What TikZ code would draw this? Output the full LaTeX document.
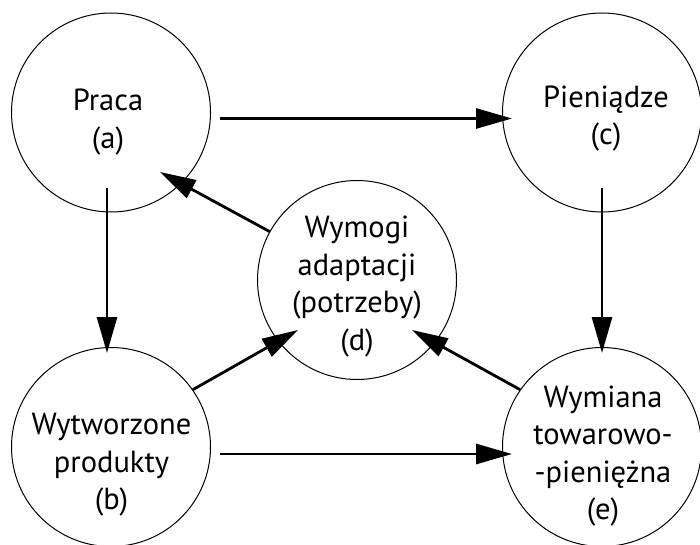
\documentclass[tikz,border=0pt]{standalone}
\usepackage{fontspec}
\setmainfont{PT Sans}
\usetikzlibrary{arrows.meta}
\begin{document}
\begin{tikzpicture}[x=1pt,y=-1pt,
  circ/.style={draw, circle, line width=1pt, minimum size=199pt, inner sep=0pt},
  lbl/.style={align=center, anchor=base, font=\fontsize{30.5}{37.5}\selectfont, inner sep=0pt},
  arr/.style={line width=2.8pt, -{Triangle[length=36pt,width=20pt]}}]
\useasboundingbox (0,0) rectangle (700,545);
% circles
\node[circ] (a) at (111,112.5) {};
\node[circ] (c) at (602,112.5) {};
\node[circ] (b) at (111,447) {};
\node[circ] (e) at (602,447) {};
\node[circ] (d) at (357,280) {};
% labels (anchor = baseline of last line)
\node[lbl] (ta) at (108,148.5) {Praca\\(a)};
\node[lbl] (tc) at (606,145) {Pieniądze\\(c)};
\node[lbl] (tb) at (111.5,509.5) {Wytworzone\\produkty\\(b)};
\node[lbl] (td) at (357,350) {Wymogi\\adaptacji\\(potrzeby)\\(d)};
\node[lbl] (te) at (603,519.5) {Wymiana\\towarowo-\\-pieniężna\\(e)};
% arrows
\draw[arr] ([shift={(9,6)}]a.east) -- ([shift={(10,6)}]c.west);
\draw[arr] ([shift={(-4,-24)}]a.south) -- ([shift={(-4,6)}]b.north);
\draw[arr] ([shift={(0,-24)}]c.south) -- ([shift={(0,6)}]e.north);
\draw[arr] ([shift={(9,7)}]b.east) -- ([shift={(10,7)}]e.west);
\draw[arr] (d.151) -- ([shift={(49,59.5)}]a.center);
\draw[arr] (b.35) -- ([shift={(-59,50)}]d.center);
\draw[arr] (e.145) -- ([shift={(55,50)}]d.center);
\end{tikzpicture}
\end{document}
